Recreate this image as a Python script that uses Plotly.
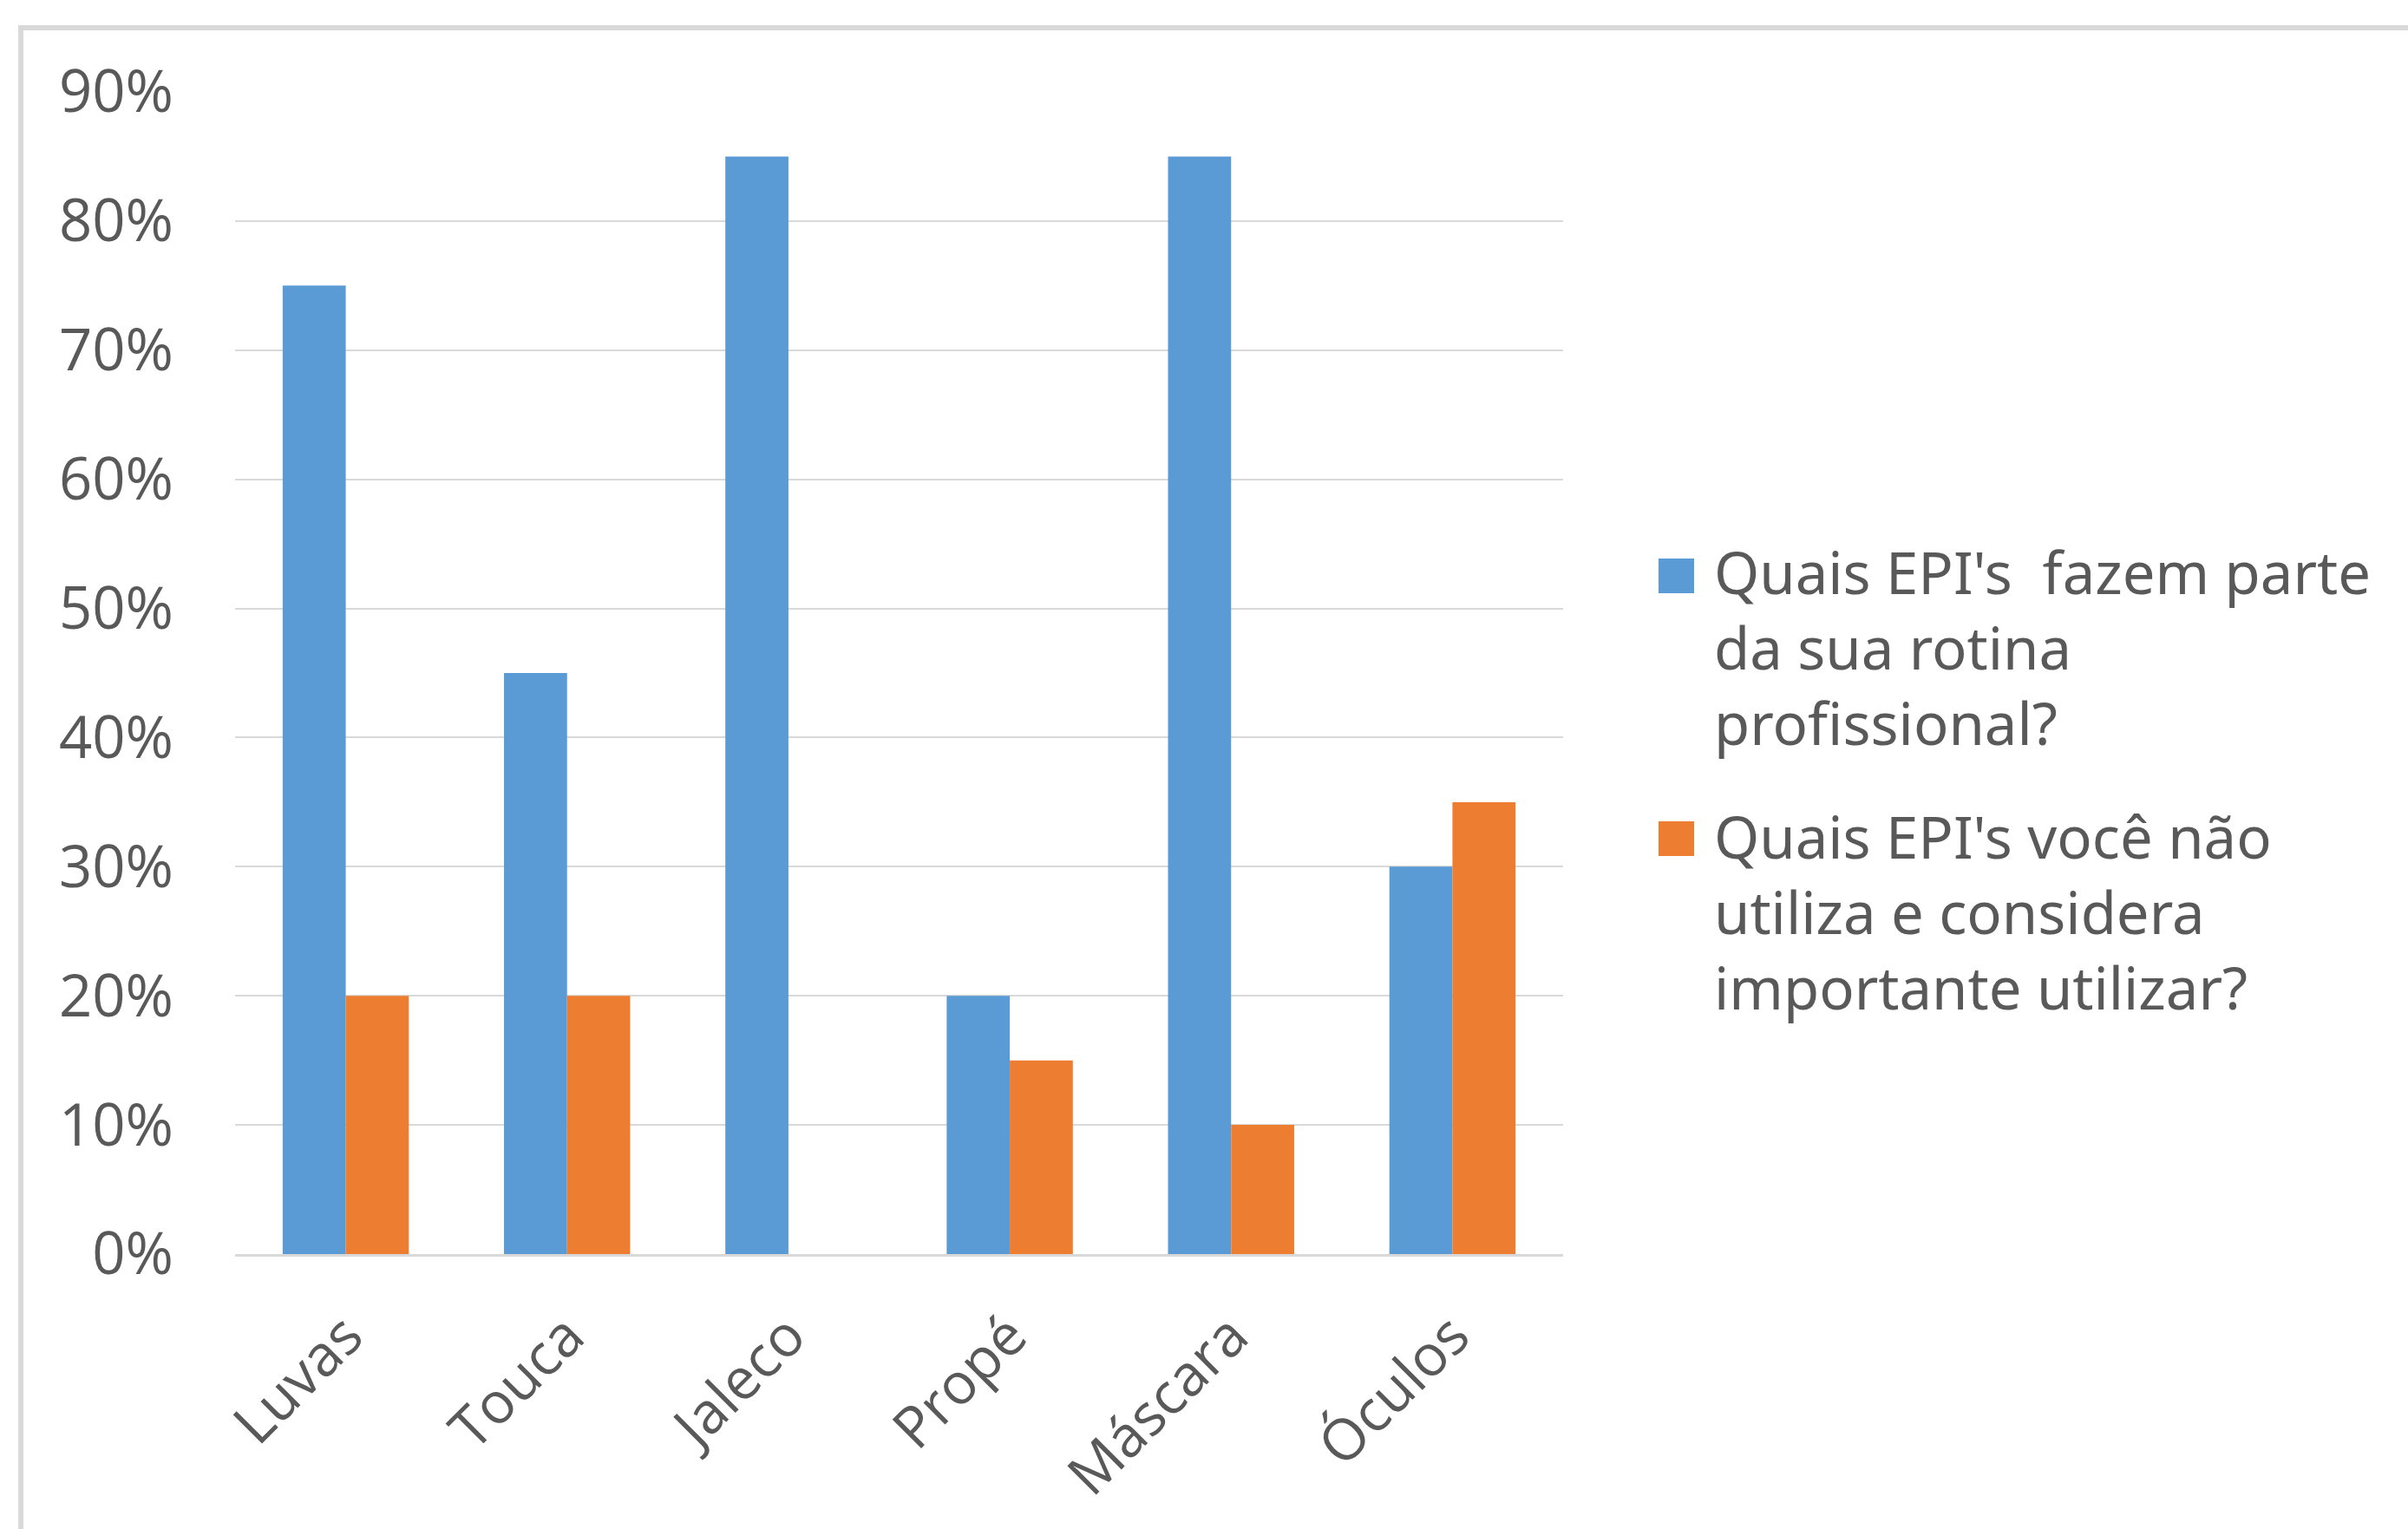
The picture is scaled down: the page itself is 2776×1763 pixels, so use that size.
import plotly.graph_objects as go

categories = ["Luvas", "Touca", "Jaleco", "Propé", "Máscara", "Óculos"]
series1_name = "Quais EPI's  fazem parte<br>da sua rotina<br>profissional?"
series1 = [0.75, 0.45, 0.85, 0.20, 0.85, 0.30]
series2_name = "Quais EPI's você não<br>utiliza e considera<br>importante utilizar?"
series2 = [0.20, 0.20, 0.0, 0.15, 0.10, 0.35]
y_ticks = [0, 0.1, 0.2, 0.3, 0.4, 0.5, 0.6, 0.7, 0.8, 0.9]
colors = ["#5b9bd5", "#ed7d31"]

W, H = 2776, 1763
L, R, T, B = 271, 1802, 106, 1446
pw, ph = R - L, B - T

def px_x(x):
    return (x - L) / pw

def px_y(y):
    return (B - y) / ph

fig = go.Figure()
fig.add_trace(go.Bar(x=categories, y=series1, name=series1_name, showlegend=False,
                     marker=dict(color=colors[0], line=dict(width=0))))
fig.add_trace(go.Bar(x=categories, y=series2, name=series2_name, showlegend=False,
                     marker=dict(color=colors[1], line=dict(width=0))))

font_tick = "Open Sans, Noto Sans, DejaVu Sans, sans-serif"
font_leg = "Noto Sans, Open Sans, sans-serif"

# legend drawn as squares + text annotations
shapes = [
    dict(type="rect", xref="paper", yref="paper",
         x0=px_x(24), x1=px_x(W + 20), y0=px_y(H + 20), y1=px_y(32),
         line=dict(color="#d9d9d9", width=6), fillcolor="rgba(0,0,0,0)", layer="below"),
]
annotations = []
leg_rows = [(series1_name, colors[0], 664, 746), (series2_name, colors[1], 967, 1051)]
for name, col, sq_center, block_center in leg_rows:
    shapes.append(dict(type="rect", xref="paper", yref="paper",
                       x0=px_x(1912), x1=px_x(1953),
                       y0=px_y(sq_center + 20), y1=px_y(sq_center - 20),
                       line=dict(width=0), fillcolor=col))
    annotations.append(dict(xref="paper", yref="paper", x=px_x(1974), y=px_y(block_center),
                            xanchor="left", yanchor="middle", align="left", showarrow=False,
                            text=name, font=dict(family=font_leg, size=67, color="#595959")))

fig.update_layout(
    width=W, height=H,
    margin=dict(l=L, r=W - R, t=T, b=H - B, pad=0),
    paper_bgcolor="white", plot_bgcolor="white",
    barmode="group", bargap=0.43, bargroupgap=0,
    showlegend=False,
    xaxis=dict(
        tickangle=-45, showgrid=False, showline=True, linecolor="#d9d9d9", linewidth=3,
        ticks="", ticklabelstandoff=26,
        tickfont=dict(family=font_tick, size=66, color="#595959"),
    ),
    yaxis=dict(
        range=[0, 0.9], tickvals=y_ticks, tickformat=".0%",
        showgrid=True, gridcolor="#d9d9d9", gridwidth=2, zeroline=False,
        showline=False, ticks="", ticklabelstandoff=70,
        tickfont=dict(family=font_tick, size=67, color="#595959"),
    ),
    shapes=shapes,
    annotations=annotations,
)

fig.write_html("out.html")
